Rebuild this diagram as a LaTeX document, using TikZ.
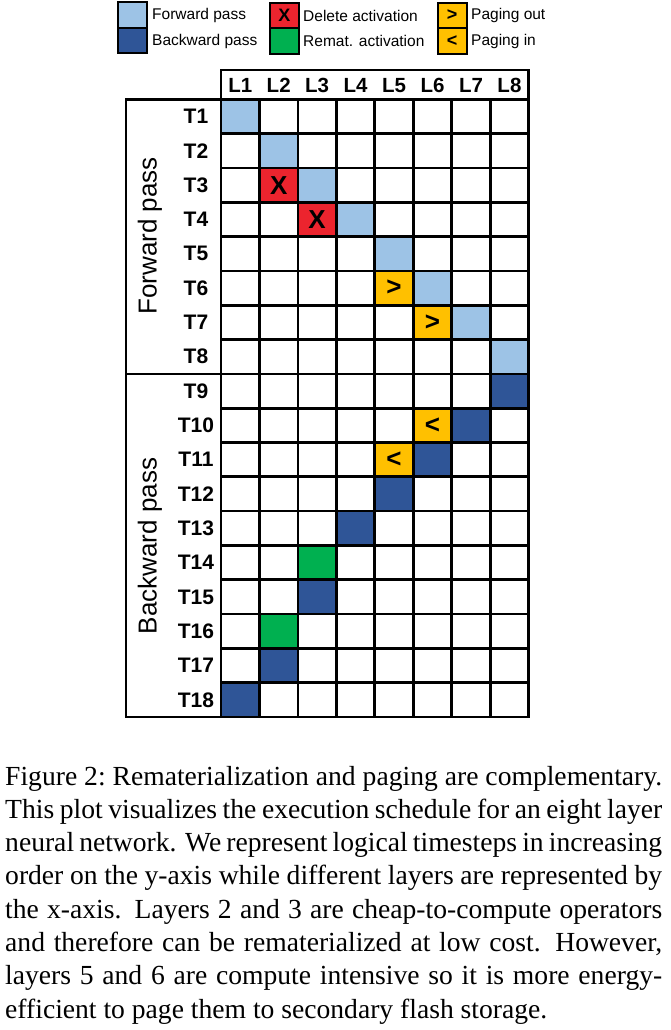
\documentclass[tikz,border=0pt]{standalone}
\usepackage{fontspec}
\setmainfont{Liberation Serif}
\setsansfont{Liberation Sans}
\definecolor{fwdblue}{RGB}{157,195,230}
\definecolor{bwdblue}{RGB}{47,85,151}
\definecolor{delred}{RGB}{236,36,46}
\definecolor{remgreen}{RGB}{0,176,80}
\definecolor{pageyel}{RGB}{255,192,0}
\newcommand{\CW}{38.46}
\newcommand{\RH}{34.32}
\tikzset{
  gl/.style={line width=2.7pt, line cap=rect},
  cellbox/.style={minimum width=38.46pt, minimum height=34.32pt, inner sep=0pt, draw=none,
    font=\sffamily\bfseries\fontsize{26}{26}\selectfont},
  legbox/.style={draw=black, line width=1.8pt, inner sep=0pt, minimum width=29pt, minimum height=25.5pt,
    font=\sffamily\bfseries\fontsize{18}{18}\selectfont},
  legtext/.style={anchor=west, inner sep=0pt, font=\sffamily\fontsize{15.5}{15.5}\selectfont},
  rowlab/.style={inner sep=0pt, font=\sffamily\bfseries\fontsize{21}{21}\selectfont},
  collab/.style={inner sep=0pt, font=\sffamily\bfseries\fontsize{20.5}{20.5}\selectfont},
  sidelab/.style={rotate=90, inner sep=0pt, font=\sffamily\fontsize{26}{26}\selectfont},
  capline/.style={anchor=base west, inner sep=0pt, font=\fontsize{27.6}{33}\selectfont}
}
\newcommand{\mycell}[4]{\node[cellbox, fill=#3] (c#1-#2) at ({221+(#1-0.5)*38.46},{99.3+(#2-0.5)*34.32}) {#4};}
\begin{document}
\begin{tikzpicture}[x=1pt,y=-1pt]
\useasboundingbox (0,0) rectangle (670,1030);
% legend
\node[legbox, fill=fwdblue] (lg1) at (132.2,15) {};
\node[legbox, fill=bwdblue] (lg2) at (132.2,40.5) {};
\node[legtext] (lt1) at (152,15.5) {Forward pass};
\node[legtext] (lt2) at (152,41) {Backward pass};
\node[legbox, fill=delred] (lg3) at (284.3,15.5) {X};
\node[legbox, fill=remgreen] (lg4) at (284.3,41) {};
\node[legtext] (lt3) at (303,15.5) {Delete activation};
\node[legtext] (lt4) at (303,41) {Remat. activation};
\node[legbox, fill=pageyel] (lg5) at (452.2,15.5) {>};
\node[legbox, fill=pageyel] (lg6) at (452.2,41) {<};
\node[legtext] (lt5) at (471,15.5) {Paging out};
\node[legtext] (lt6) at (471,41) {Paging in};
% cells
\mycell{1}{1}{fwdblue}{}
\mycell{2}{2}{fwdblue}{}
\mycell{2}{3}{delred}{X}
\mycell{3}{3}{fwdblue}{}
\mycell{3}{4}{delred}{X}
\mycell{4}{4}{fwdblue}{}
\mycell{5}{5}{fwdblue}{}
\mycell{5}{6}{pageyel}{>}
\mycell{6}{6}{fwdblue}{}
\mycell{6}{7}{pageyel}{>}
\mycell{7}{7}{fwdblue}{}
\mycell{8}{8}{fwdblue}{}
\mycell{8}{9}{bwdblue}{}
\mycell{6}{10}{pageyel}{<}
\mycell{7}{10}{bwdblue}{}
\mycell{5}{11}{pageyel}{<}
\mycell{6}{11}{bwdblue}{}
\mycell{5}{12}{bwdblue}{}
\mycell{4}{13}{bwdblue}{}
\mycell{3}{14}{remgreen}{}
\mycell{3}{15}{bwdblue}{}
\mycell{2}{16}{remgreen}{}
\mycell{2}{17}{bwdblue}{}
\mycell{1}{18}{bwdblue}{}
% grid lines
\foreach \i in {1,...,7} \draw[gl] ({221+\i*\CW},99.3) -- ({221+\i*\CW},717);
\foreach \j in {1,...,17} \draw[gl] (221,{99.3+\j*\RH}) -- (528.7,{99.3+\j*\RH});
\draw[gl] (221,70) rectangle (528.7,717);
\draw[gl] (221,99.3) -- (528.7,99.3);
\draw[gl] (126,99.3) rectangle (221,717);
\draw[gl] (126,373.9) -- (528.7,373.9);
% column labels
\foreach \i in {1,...,8} \node[collab] (L\i) at ({221+(\i-0.5)*\CW},85.5) {L\i};
% row labels
\foreach \j in {1,...,18} \node[rowlab] (T\j) at (196,{99.3+(\j-0.5)*\RH}) {T\j};
% side labels
\node[sidelab] (fwd) at (150,236) {Forward pass};
\node[sidelab] (bwd) at (150,546) {Backward pass};
% caption
\node[capline] (cap1) at (5,785) {\makebox[657pt][s]{Figure 2:\ Rematerialization and paging are complementary.}};
\node[capline] (cap2) at (5,818.3) {\makebox[657pt][s]{This plot visualizes the execution schedule for an eight layer}};
\node[capline] (cap3) at (5,851.6) {\makebox[657pt][s]{neural network. We represent logical timesteps in increasing}};
\node[capline] (cap4) at (5,884.9) {\makebox[657pt][s]{order on the y-axis while different layers are represented by}};
\node[capline] (cap5) at (5,918.2) {\makebox[657pt][s]{the x-axis. Layers 2 and 3 are cheap-to-compute operators}};
\node[capline] (cap6) at (5,951.5) {\makebox[657pt][s]{and therefore can be rematerialized at low cost. However,}};
\node[capline] (cap7) at (5,984.8) {\makebox[657pt][s]{layers 5 and 6 are compute intensive so it is more energy-}};
\node[capline] (cap8) at (5,1018.1) {efficient to page them to secondary flash storage.};
\end{tikzpicture}
\end{document}
